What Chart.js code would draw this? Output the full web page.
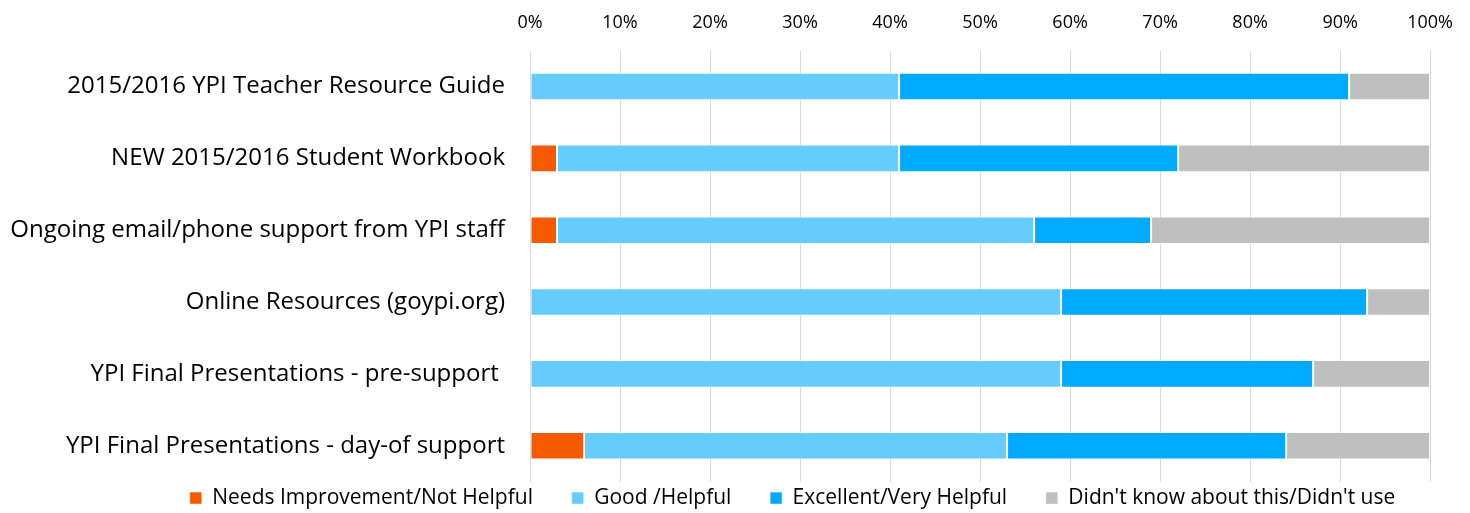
<!DOCTYPE html>
<html>
<head>
<meta charset="utf-8">
<script src="https://cdn.jsdelivr.net/npm/chart.js@4"></script>
<style>
  html, body { margin: 0; padding: 0; background: #fff; }
  #wrap { width: 1470px; height: 513px; position: relative; }
</style>
</head>
<body>
<div id="wrap"><canvas id="myChart"></canvas></div>
<script>
'use strict';

const categories = [
  '2015/2016 YPI Teacher Resource Guide',
  'NEW 2015/2016 Student Workbook',
  'Ongoing email/phone support from YPI staff',
  'Online Resources (goypi.org)',
  'YPI Final Presentations - pre-support ',
  'YPI Final Presentations - day-of support'
];
const seriesNames = [
  'Needs Improvement/Not Helpful',
  'Good /Helpful',
  'Excellent/Very Helpful',
  "Didn't know about this/Didn't use"
];
const needsImprovement = [0, 3, 3, 0, 0, 6];
const goodHelpful = [41, 38, 53, 59, 59, 47];
const excellent = [50, 31, 13, 34, 28, 31];
const didntKnow = [9, 28, 31, 7, 13, 16];
const tickValues = [0, 10, 20, 30, 40, 50, 60, 70, 80, 90, 100];

const colors = ['#f55a00', '#66ccff', '#00aaff', '#bfbfbf'];
const allValues = [needsImprovement, goodHelpful, excellent, didntKnow];

let datasets = [];
for (let i = 0; i < seriesNames.length; i++) {
  datasets.push({
    label: seriesNames[i],
    data: allValues[i],
    backgroundColor: colors[i],
    borderColor: 'rgba(255,255,255,0.5)',
    borderWidth: 1,
    borderSkipped: false,
    categoryPercentage: 0.8,
    barPercentage: 0.48
  });
}

const fontName = '"Open Sans", Lato, sans-serif';

new Chart(document.getElementById('myChart').getContext('2d'), {
  type: 'bar',
  data: { labels: categories, datasets: datasets },
  options: {
    indexAxis: 'y',
    responsive: true,
    maintainAspectRatio: false,
    animation: false,
    layout: { padding: { left: 8, right: 36, top: -5, bottom: -13 } },
    plugins: {
      tooltip: { enabled: false },
      legend: {
        position: 'bottom',
        align: 'end',
        labels: {
          boxWidth: 12,
          boxHeight: 12,
          padding: 6,
          color: '#000',
          font: { family: fontName, size: 21 },
          generateLabels: function (chart) {
            // extra spaces widen the gap between legend items
            let items = Chart.defaults.plugins.legend.labels.generateLabels(chart);
            items.forEach(item => { item.text = item.text + '      '; });
            return items;
          }
        }
      }
    },
    scales: {
      x: {
        position: 'top',
        stacked: true,
        min: 0,
        max: 100,
        afterBuildTicks: function (axis) {
          axis.ticks = tickValues.map(v => ({ value: v }));
        },
        ticks: {
          callback: v => v + '%',
          color: '#000',
          padding: 17,
          font: { family: fontName, size: 18 }
        },
        grid: { color: '#d9d9d9', drawTicks: false },
        border: { display: false }
      },
      y: {
        stacked: true,
        afterFit: function (axis) { axis.width = 522; },
        ticks: {
          color: '#000',
          padding: 17,
          font: { family: fontName, size: 24 }
        },
        grid: { display: false },
        border: { display: false }
      }
    }
  }
});
</script>
</body>
</html>
